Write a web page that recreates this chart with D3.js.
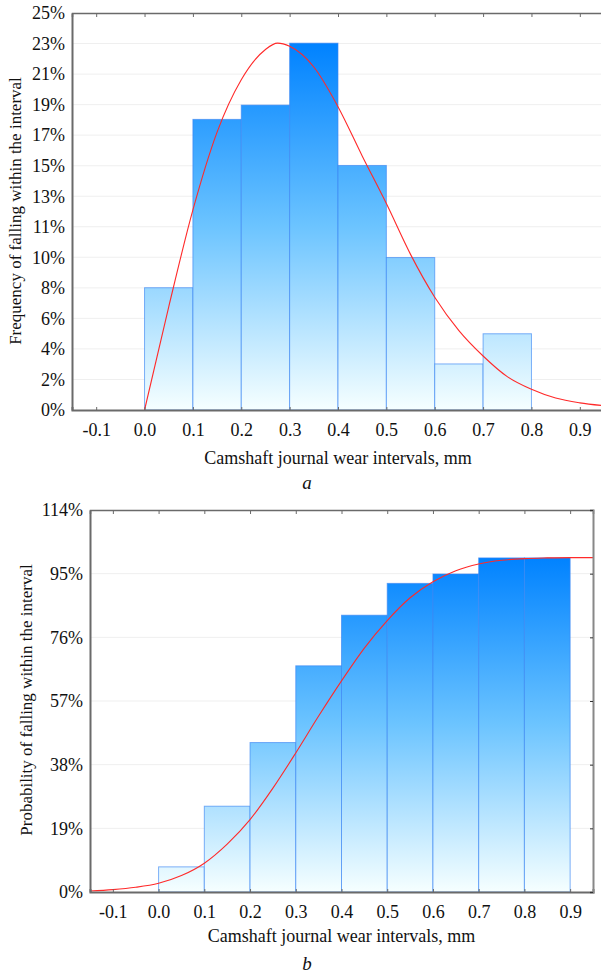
<!DOCTYPE html>
<html>
<head>
<meta charset="utf-8">
<script src="https://d3js.org/d3.v7.min.js"></script>
<style>
  body { margin: 0; background: #fff; }
  text { font-family: "Liberation Serif", "Times New Roman", serif; fill: #111; }
</style>
</head>
<body>
<svg width="601" height="975"></svg>
<script>
// shared x ticks (mm)
const xTicks = [-0.1, 0.0, 0.1, 0.2, 0.3, 0.4, 0.5, 0.6, 0.7, 0.8, 0.9];
const xLabels = ["-0.1", "0.0", "0.1", "0.2", "0.3", "0.4", "0.5", "0.6", "0.7", "0.8", "0.9"];

// chart a: frequency histogram
const binsA = [0.0, 0.1, 0.2, 0.3, 0.4, 0.5, 0.6, 0.7];
const freqA = [7.7, 18.3, 19.2, 23.1, 15.4, 9.6, 2.9, 4.8];
const yTicksA = [0, 1.92, 3.85, 5.77, 7.69, 9.62, 11.54, 13.46, 15.38, 17.31, 19.23, 21.15, 23.08, 25];
const yLabelsA = ["0%", "2%", "4%", "6%", "8%", "10%", "11%", "13%", "15%", "17%", "19%", "21%", "23%", "25%"];
const curveAx = [0.0, 0.05, 0.1, 0.15, 0.2, 0.25, 0.275, 0.3, 0.35, 0.4, 0.45, 0.5, 0.55, 0.6, 0.65, 0.7, 0.75, 0.8, 0.85, 0.9, 0.95];
const curveAy = [0, 6.5, 12.6, 17.5, 20.8, 22.7, 23.1, 22.9, 21.6, 19.1, 16.0, 13.0, 9.8, 7.1, 5.0, 3.4, 2.1, 1.3, 0.75, 0.45, 0.27];

// chart b: cumulative probability
const binsB = [0.0, 0.1, 0.2, 0.3, 0.4, 0.5, 0.6, 0.7, 0.8];
const cumB = [7.5, 25.6, 44.6, 67.5, 82.6, 92.1, 94.9, 99.7, 99.7];
const yTicksB = [0, 19, 38, 57, 76, 95, 114];
const yLabelsB = ["0%", "19%", "38%", "57%", "76%", "95%", "114%"];
const curveBx = [-0.15, -0.1, -0.05, 0.0, 0.05, 0.1, 0.15, 0.2, 0.25, 0.3, 0.35, 0.4, 0.45, 0.5, 0.55, 0.6, 0.65, 0.7, 0.75, 0.8, 0.85, 0.9, 0.95];
const curveBy = [0.3, 0.7, 1.4, 2.6, 4.9, 8.6, 14.3, 21.6, 31.0, 41.5, 52.5, 63.0, 72.8, 81.0, 87.8, 92.6, 95.9, 97.9, 99.0, 99.5, 99.7, 99.8, 99.8];

const svg = d3.select("svg");
const defs = svg.append("defs");

function drawChart(o) {
  const x = d3.scaleLinear().domain([-0.15, 0.95]).range([o.left, o.right]);
  const y = d3.scaleLinear().domain([0, o.yMax]).range([o.bottom, o.top]);
  const g = svg.append("g");

  // gradient across the plot height
  const grad = defs.append("linearGradient")
    .attr("id", o.id)
    .attr("gradientUnits", "userSpaceOnUse")
    .attr("x1", 0).attr("x2", 0)
    .attr("y1", y(o.gradTop)).attr("y2", y(0));
  grad.append("stop").attr("offset", 0).attr("stop-color", "#0082ff");
  grad.append("stop").attr("offset", 0.5).attr("stop-color", "#6cc4ff");
  grad.append("stop").attr("offset", 1).attr("stop-color", "#f6ffff");

  // faint grid
  g.selectAll(".grid").data(o.yTicks.slice(1, -1)).enter().append("line")
    .attr("x1", o.left).attr("x2", o.right)
    .attr("y1", d => y(d)).attr("y2", d => y(d))
    .attr("stroke", "#efefef").attr("stroke-width", 1);

  // bars
  g.selectAll(".bar").data(o.bins).enter().append("rect")
    .attr("x", d => x(d))
    .attr("y", (d, i) => y(o.values[i]))
    .attr("width", d => x(d + 0.1) - x(d))
    .attr("height", (d, i) => y(0) - y(o.values[i]))
    .attr("fill", `url(#${o.id})`)
    .attr("stroke", "#3a86f2").attr("stroke-opacity", 0.65).attr("stroke-width", 1);

  // fitted curve
  const pts = o.cx.map((d, i) => [d, o.cy[i]]);
  g.append("path")
    .datum(pts)
    .attr("fill", "none").attr("stroke", "#ff2a2a").attr("stroke-width", 1.1)
    .attr("d", d3.line().x(d => x(d[0])).y(d => y(d[1])).curve(d3.curveMonotoneX));

  // axes
  const axisColor = "#6a6a6a";
  g.append("g").attr("transform", `translate(0,${o.bottom})`)
    .call(d3.axisBottom(x).tickValues(xTicks).tickSize(-3).tickFormat((d, i) => xLabels[i]))
    .call(a => a.select(".domain").attr("stroke", axisColor).attr("stroke-width", 2))
    .call(a => a.selectAll(".tick line").attr("stroke", axisColor))
    .call(a => a.selectAll("text").attr("font-size", 18).attr("y", 10).attr("dy", "0.9em").attr("font-family", "Liberation Serif").attr("fill", "#111"));
  g.append("g").attr("transform", `translate(0,${o.top})`)
    .call(d3.axisTop(x).tickValues(xTicks).tickSize(-4).tickFormat(""))
    .call(a => a.select(".domain").attr("stroke", axisColor).attr("stroke-width", 1.5))
    .call(a => a.selectAll(".tick line").attr("stroke", axisColor));
  g.append("g").attr("transform", `translate(${o.left},0)`)
    .call(d3.axisLeft(y).tickValues(o.yTicks).tickSize(0).tickPadding(7).tickFormat((d, i) => o.yLabels[i]))
    .call(a => a.select(".domain").attr("stroke", axisColor).attr("stroke-width", 2))
    .call(a => a.selectAll("text").attr("font-size", 18).attr("font-family", "Liberation Serif").attr("fill", "#111"));
  if (o.rightAxis) {
    g.append("g").attr("transform", `translate(${o.right},0)`)
      .call(d3.axisRight(y).tickValues(o.yTicks).tickSize(-3).tickFormat(""))
      .call(a => a.select(".domain").attr("stroke", "#888").attr("stroke-width", 2))
      .call(a => a.selectAll(".tick line").attr("stroke", "#333"));
  }

  // titles
  svg.append("text")
    .attr("x", (o.left + o.right) / 2).attr("y", o.xTitleY)
    .attr("text-anchor", "middle").attr("font-size", 18)
    .text("Camshaft journal wear intervals, mm");
  svg.append("text")
    .attr("transform", `translate(${o.yTitleX},${o.yTitleY}) rotate(-90)`)
    .attr("text-anchor", "middle").attr("font-size", 17)
    .text(o.yTitle);
  svg.append("text")
    .attr("x", 307).attr("y", o.letterY)
    .attr("text-anchor", "middle").attr("font-size", 19).attr("font-style", "italic")
    .text(o.letter);
}

drawChart({
  id: "gradA", left: 72, right: 604, top: 13, bottom: 410, yMax: 25, gradTop: 23.1,
  bins: binsA, values: freqA, cx: curveAx, cy: curveAy,
  yTicks: yTicksA, yLabels: yLabelsA, rightAxis: false,
  xTitleY: 464, yTitle: "Frequency of falling within the interval", yTitleX: 21, yTitleY: 211,
  letter: "a", letterY: 489
});

drawChart({
  id: "gradB", left: 90, right: 593, top: 510, bottom: 892, yMax: 114, gradTop: 100,
  bins: binsB, values: cumB, cx: curveBx, cy: curveBy,
  yTicks: yTicksB, yLabels: yLabelsB, rightAxis: true,
  xTitleY: 942, yTitle: "Probability of falling within the interval", yTitleX: 32, yTitleY: 700,
  letter: "b", letterY: 970
});
</script>
</body>
</html>
